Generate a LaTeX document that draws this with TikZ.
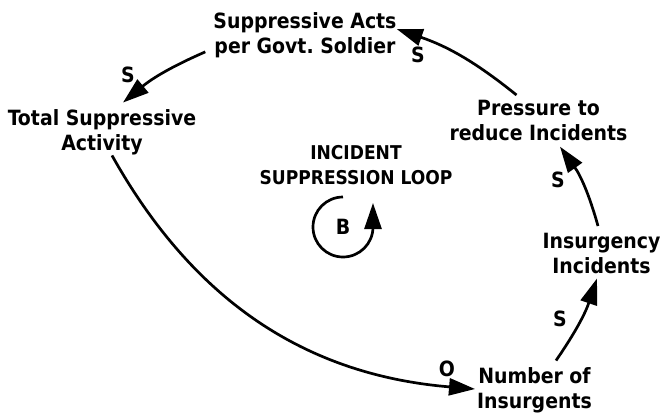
\documentclass[tikz,border=0pt]{standalone}
\usepackage{fontspec}
\setmainfont{DejaVu Sans Condensed}
\usetikzlibrary{arrows.meta}
\begin{document}
\frenchspacing
\begin{tikzpicture}[x=1pt,y=-1pt,
  lbl/.style={font=\fontsize{21}{25}\selectfont\bfseries,align=center,inner sep=0pt},
  looptitle/.style={font=\fontsize{19}{25}\selectfont\bfseries,align=center,inner sep=0pt},
  pol/.style={font=\fontsize{21}{25}\selectfont\bfseries,inner sep=0pt},
  link/.style={line width=2.7pt,-{Triangle[length=26pt,width=17pt]}}]
\useasboundingbox (0,0) rectangle (662,413);
% variables
\node[lbl] (sa)  at (305,35)    {Suppressive Acts\\per Govt. Soldier};
\node[lbl] (tot) at (102,132.5) {Total Suppressive\\Activity};
\node[lbl] (pr)  at (538.5,120.5) {Pressure to\\reduce Incidents};
\node[lbl] (ins) at (601.5,253.5) {Insurgency\\Incidents};
\node[lbl] (num) at (534.5,390.5) {Number of\\Insurgents};
\node[looptitle] (loopname) at (356,165.5) {INCIDENT\\SUPPRESSION LOOP};
\node[pol] (B) at (343,227) {B};
% polarity labels
\node[pol] (s1) at (128,75)  {S};
\node[pol] (s2) at (418,55)  {S};
\node[pol] (s3) at (558,180) {S};
\node[pol] (s4) at (560,319) {S};
\node[pol] (o1) at (447,369) {O};
% links
\draw[link] ([shift={(-8,-6)}]sa.south west) to[bend right=8] ([shift={(21,-7)}]tot.north);
\draw[link] ([shift={(10,0)}]tot.south) to[bend right=28] ([shift={(-2,-1.5)}]num.west);
\draw[link] ([shift={(21.5,-7)}]num.north) to[bend right=8] ([shift={(-4.5,4.5)}]ins.south);
\draw[link] ([shift={(-3.5,-7)}]ins.north) to[bend right=10] ([shift={(21.5,5.7)}]pr.south);
\draw[link] ([shift={(-22,-5)}]pr.north) to[bend right=10] ([shift={(0,-6)}]sa.east);
% loop symbol
\draw[link] ([shift={(0,-30)}]B.center) arc[start angle=270,end angle=0,radius=30] -- ++(0,-24);
\end{tikzpicture}
\end{document}
